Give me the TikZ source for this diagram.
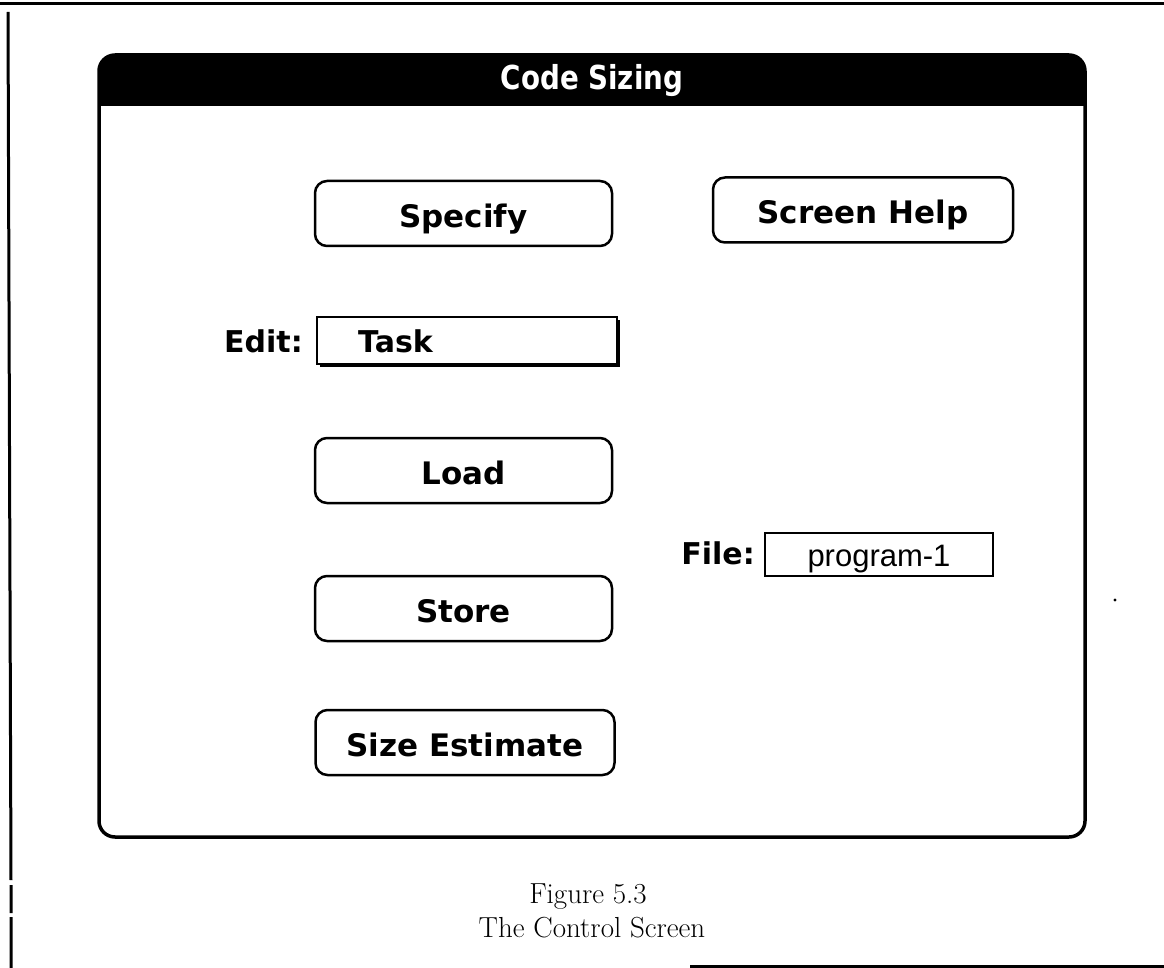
\documentclass[tikz,border=0pt]{standalone}
\usepackage{fontspec}
\setmainfont{Latin Modern Roman}
\newfontfamily\uifont{DejaVu Sans}
\newfontfamily\helvfont{Liberation Sans}
\usetikzlibrary{shadows}
\tikzset{
  pageline/.style={line width=3pt},
  btn/.style={draw, line width=2.5pt, rounded corners=12pt, minimum width=297pt,
    minimum height=65pt, inner sep=0pt, text height=28pt, text depth=0pt,
    font=\uifont\bfseries\fontsize{31}{31}\selectfont},
  uilabel/.style={inner sep=0pt, font=\uifont\bfseries\fontsize{30}{30}\selectfont},
  fieldbox/.style={draw, line width=2pt, fill=white, inner sep=0pt},
  caption/.style={inner sep=0pt, font=\fontsize{29}{29}\selectfont}
}
\begin{document}
\begin{tikzpicture}[x=1pt,y=-1pt]
\useasboundingbox[fill=white] (0,0) rectangle (1164,968);
% page frame
\coordinate (ptl) at (0,4);
\coordinate (ptr) at (1164,4);
\draw[pageline] (ptl) -- (ptr);
\coordinate (pl1) at (8,12);
\coordinate (pl2) at (11,880);
\coordinate (pl3) at (11,885);
\coordinate (pl4) at (11,913);
\coordinate (pl5) at (11,917);
\coordinate (pl6) at (11,968);
\draw[pageline] (pl1) -- (pl2) (pl3) -- (pl4) (pl5) -- (pl6);
\coordinate (pb1) at (690,966);
\coordinate (pb2) at (1164,966);
\draw[pageline] (pb1) -- (pb2);
% window
\node[draw, line width=3.5pt, rounded corners=16pt, minimum width=986pt,
  minimum height=782pt, inner sep=0pt] (window) at (592,446) {};
\begin{scope}
  \clip (99,53) rectangle (1085,106);
  \fill[rounded corners=16pt] (99,55) rectangle (1085,150);
\end{scope}
\node[text=white, inner sep=0pt, font=\uifont\bfseries\fontsize{33}{33}\selectfont]
  (title) at (592,81) {\scalebox{0.84}[1]{Code Sizing}};
% buttons
\node[btn] (specify) at (463.5,213.5) {Specify};
\node[btn, minimum width=300pt] (help) at (863,210) {Screen Help};
\node[btn] (load) at (463.5,470.5) {Load};
\node[btn] (store) at (463.5,608.5) {Store};
\node[btn, minimum width=299pt] (size) at (465,742.5) {Size Estimate};
% edit field
\node[uilabel, anchor=east] (editlbl) at (303,341) {Edit:};
\node[fieldbox, minimum width=300pt, minimum height=47pt,
  drop shadow={shadow xshift=3pt, shadow yshift=-3pt, opacity=1, fill=black}]
  (editbox) at (467,340.5) {};
\node[uilabel, anchor=west] (task) at (358,341) {Task};
% file field
\node[uilabel, anchor=east] (filelbl) at (755,553) {File:};
\node[fieldbox, minimum width=228pt, minimum height=43pt, text height=24pt, text depth=0pt,
  font=\helvfont\fontsize{31}{31}\selectfont] (filebox) at (879,554) {program-1};
% stray dot
\fill (1115,600) circle (1.6pt);
% caption
\node[caption] (fig) at (588,897) {Figure 5.3};
\node[caption] (cap) at (592,928) {The Control Screen};
\end{tikzpicture}
\end{document}
